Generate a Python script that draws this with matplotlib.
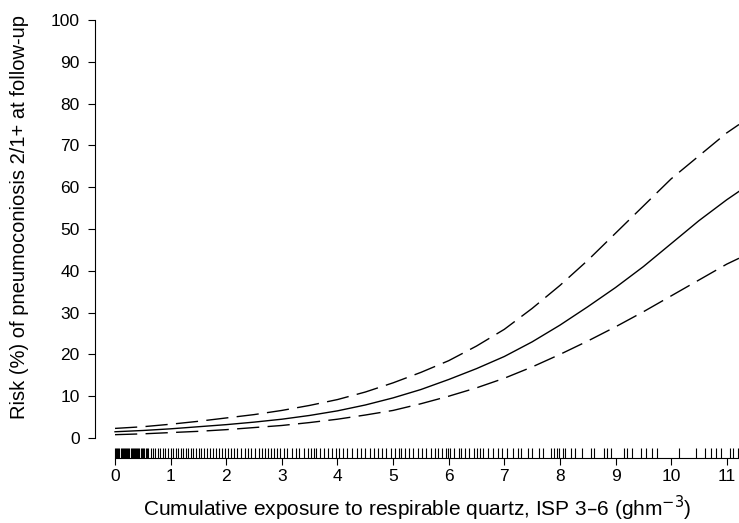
import matplotlib.pyplot as plt

plt.rcParams['font.family'] = ['Liberation Sans', 'DejaVu Sans']

# fitted risk curve and 95% limits
exposure = [0, 0.5, 1, 1.5, 2, 2.5, 3, 3.5, 4, 4.5, 5, 5.5, 6, 6.5, 7, 7.5,
            8, 8.5, 9, 9.5, 10, 10.5, 11, 11.22]
risk = [1.5, 1.8, 2.2, 2.7, 3.2, 3.8, 4.5, 5.4, 6.5, 7.9, 9.6, 11.6, 14, 16.6,
        19.5, 23, 27, 31.4, 36, 41, 46.5, 52, 57, 59]
upper = [2.3, 2.7, 3.3, 4.0, 4.8, 5.6, 6.6, 7.8, 9.2, 11, 13.2, 15.7, 18.5, 22,
         26, 31, 36.5, 42.5, 49, 55.5, 62, 67.5, 73, 75]
lower = [0.8, 1.0, 1.3, 1.6, 2.0, 2.5, 3.0, 3.7, 4.5, 5.5, 6.6, 8.2, 10, 12,
         14.3, 17, 20, 23.2, 26.6, 30.2, 34, 37.8, 41.6, 43]

# individual exposures (rug)
rug = [0.0, 0.02, 0.04, 0.06, 0.08, 0.10, 0.12, 0.14, 0.16, 0.18, 0.20, 0.22,
       0.24, 0.26, 0.28, 0.30, 0.32, 0.34, 0.36, 0.38, 0.40, 0.42, 0.44, 0.46,
       0.48, 0.50, 0.52, 0.55, 0.58, 0.60, 0.64, 0.68, 0.72, 0.77, 0.81, 0.86,
       0.90, 0.95,
       1.0, 1.04, 1.09, 1.13, 1.18, 1.22, 1.27, 1.31, 1.36, 1.40, 1.46, 1.51,
       1.55, 1.60, 1.66, 1.71, 1.76, 1.82, 1.87, 1.92, 1.97,
       2.03, 2.08, 2.14, 2.20, 2.27, 2.33, 2.40, 2.45, 2.52, 2.58, 2.64, 2.70,
       2.75, 2.80, 2.86, 2.92, 2.97,
       3.04, 3.10, 3.18, 3.25, 3.31, 3.40, 3.47, 3.53, 3.58, 3.62, 3.68, 3.75,
       3.83, 3.91, 3.97,
       4.03, 4.10, 4.18, 4.27, 4.35, 4.42, 4.50, 4.58, 4.66, 4.72, 4.80, 4.88, 4.96,
       5.04, 5.10, 5.15, 5.22, 5.28, 5.36, 5.45, 5.52, 5.60, 5.68, 5.75, 5.80,
       5.88, 5.95, 5.99,
       6.03, 6.10, 6.18, 6.22, 6.30, 6.37, 6.45, 6.50, 6.57, 6.62, 6.70, 6.80,
       6.88, 6.95,
       7.05, 7.15, 7.25, 7.30, 7.42, 7.50, 7.62, 7.70, 7.84, 7.90, 7.95, 7.98,
       8.05, 8.10, 8.20, 8.28, 8.40, 8.55, 8.62, 8.80, 8.85, 8.92,
       9.15, 9.20, 9.30, 9.45, 9.55, 9.65, 9.75,
       10.15, 10.45, 10.60, 10.72, 10.80, 10.90,
       11.05, 11.12, 11.20]

fig = plt.figure(figsize=(7.39, 5.23), dpi=100)
ax = fig.add_axes([95 / 739, 65 / 523, 644 / 739, 438 / 523])

ax.plot(exposure, risk, color="black", lw=1.0)
for band in (upper, lower):
    ln, = ax.plot(exposure, band, color="black", lw=1.0)
    ln.set_dashes([16, 6])

ax.vlines(rug, -4.78, -2.4, color="black", lw=0.8)

ax.set_xlim(-0.36, 11.22)
ax.set_ylim(-4.78, 100)

for side in ("top", "right"):
    ax.spines[side].set_visible(False)
ax.spines["left"].set_bounds(0, 100)
ax.spines["bottom"].set_bounds(0, 11.22)

ax.set_xticks(range(0, 12))
ax.set_yticks(range(0, 101, 10))
ax.tick_params(direction="out", length=5, labelsize=12.5)
ax.tick_params(axis="x", pad=3)
ax.tick_params(axis="y", pad=6)

ax.set_xlabel("Cumulative exposure to respirable quartz, ISP 3–6 (ghm$^{-3}$)",
              fontsize=15, labelpad=7)
ax.set_ylabel("Risk (%) of pneumoconiosis 2/1+ at follow-up", fontsize=14.5)
ax.yaxis.set_label_coords(-0.103, 0.55)

fig.savefig("out.png", dpi=100)
